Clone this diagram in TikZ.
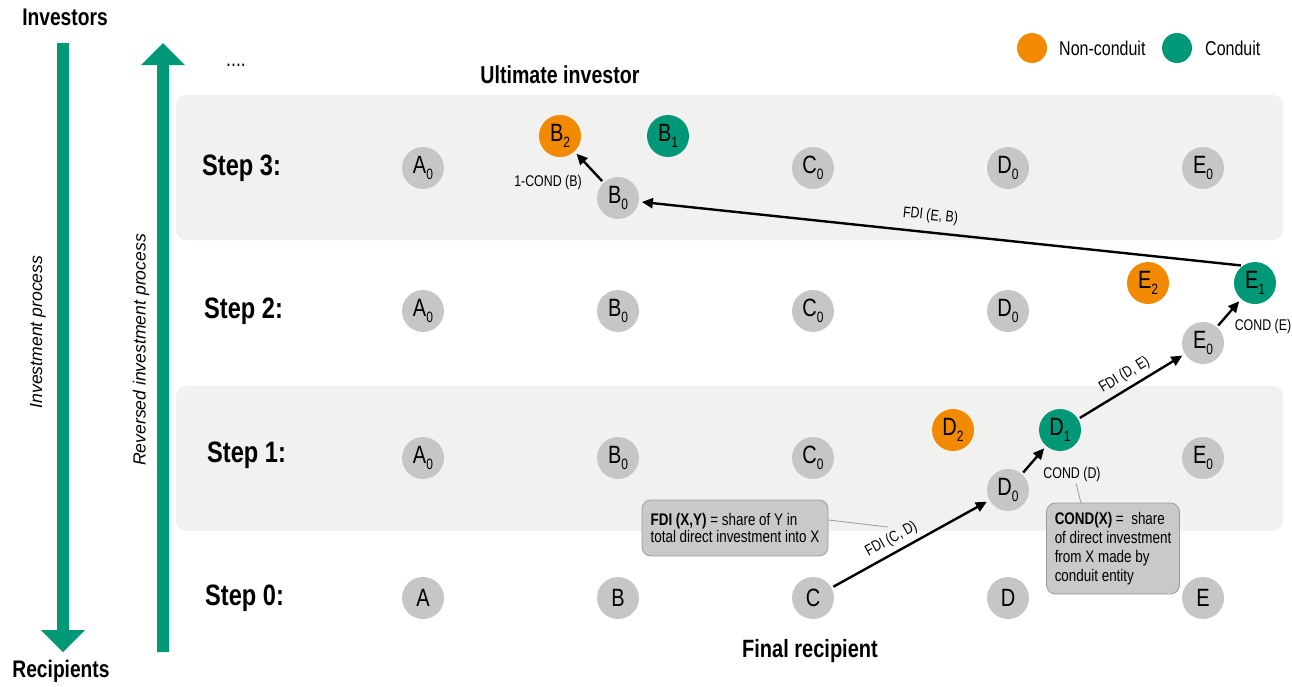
\documentclass[tikz,border=0pt]{standalone}
\usepackage{fontspec}
\setmainfont{Liberation Sans}[FakeStretch=0.8]
\newfontfamily\itfont{Liberation Sans}
\usetikzlibrary{arrows.meta,calc}
\definecolor{orng}{HTML}{F18A00}
\definecolor{grn}{HTML}{009877}
\definecolor{ngray}{HTML}{C6C6C6}
\definecolor{band}{HTML}{F1F1F0}
\definecolor{cfill}{HTML}{C9C9C9}
\definecolor{cline}{HTML}{9B9B9B}
\newcommand\fsz[1]{\fontsize{#1}{#1}\selectfont}
\newcommand\entlab[2]{#1\raisebox{-6.5pt}{\fsz{15}#2}}
\tikzset{
  ent/.style={circle, minimum size=42pt, inner sep=0pt, font=\fsz{25}},
  basent/.style={ent, fill=ngray},
  nonc/.style={ent, fill=orng},
  cond/.style={ent, fill=grn},
  arr/.style={line width=2.4pt, -{Triangle[length=11pt,width=10pt]}, shorten >=3pt, shorten <=2pt},
  lbl/.style={font=\fsz{15.5}, inner sep=2pt},
  steplbl/.style={font=\bfseries\fsz{29.5}, anchor=west, inner sep=0pt},
  head/.style={font=\bfseries\fsz{24}, inner sep=0pt},
  bandbox/.style={fill=band, rounded corners=10pt},
  callout/.style={fill=cfill, draw=cline, line width=0.8pt, rounded corners=9pt, align=left, font=\fsz{16.8}, inner sep=0pt},
  thinl/.style={draw=cline, line width=0.8pt},
  legtxt/.style={font=\fsz{20}, anchor=west, inner sep=0pt},
}
\begin{document}
\begin{tikzpicture}[x=1pt,y=-1pt]
\useasboundingbox (0,0) rectangle (1292,686);
% bands
\fill[bandbox] (176,95) rectangle (1283,240);
\fill[bandbox] (176,386) rectangle (1283,531);
% big green arrows
\fill[grn] (57,43) -- (69,43) -- (69,630) -- (85,630) -- (63,652) -- (41,630) -- (57,630) -- cycle;
\fill[grn] (157,652) -- (169,652) -- (169,65) -- (185,65) -- (163,43) -- (141,65) -- (157,65) -- cycle;
\node[head] (inv) at (65,17) {Investors};
\node[head] (rec) at (61,671) {Recipients};
\node[font=\itfont\itshape\fsz{17.6}, rotate=90, inner sep=0pt] (ip) at (38,332) {Investment process};
\node[font=\itfont\itshape\fsz{17.6}, rotate=90, inner sep=0pt] (rip) at (141,350) {Reversed investment process};
\node[font=\fsz{22}, inner sep=0pt, anchor=base] (dots) at (236,66) {....};
\node[head, font=\bfseries\fsz{24.5}] (ult) at (560,75) {Ultimate investor};
\node[head, font=\bfseries\fsz{25}] (fin) at (810,651) {Final recipient};
% legend
\fill[orng] (1032,48) circle (15pt);
\node[legtxt] (lnc) at (1059,48) {Non-conduit};
\fill[grn] (1177,48) circle (15pt);
\node[legtxt] (lc) at (1205,48) {Conduit};
% step labels
\node[steplbl] (s3) at (202,168) {Step 3:};
\node[steplbl] (s2) at (204,311) {Step 2:};
\node[steplbl] (s1) at (207,455) {Step 1:};
\node[steplbl] (s0) at (205,598) {Step 0:};
% step 3
\node[basent] (a3) at (423,168) {\entlab{A}{0}};
\node[basent] (b3) at (618,198) {\entlab{B}{0}};
\node[nonc] (b32) at (560,136) {\entlab{B}{2}};
\node[cond] (b31) at (668,136) {\entlab{B}{1}};
\node[basent] (c3) at (813,168) {\entlab{C}{0}};
\node[basent] (d3) at (1008,168) {\entlab{D}{0}};
\node[basent] (e3) at (1203,168) {\entlab{E}{0}};
% step 2
\node[basent] (a2) at (423,311) {\entlab{A}{0}};
\node[basent] (b2) at (618,311) {\entlab{B}{0}};
\node[basent] (c2) at (813,311) {\entlab{C}{0}};
\node[basent] (d2) at (1008,311) {\entlab{D}{0}};
\node[basent] (e2) at (1203,343) {\entlab{E}{0}};
\node[nonc] (e22) at (1148,283) {\entlab{E}{2}};
\node[cond] (e21) at (1255,283) {\entlab{E}{1}};
% step 1
\node[basent] (a1) at (423,458) {\entlab{A}{0}};
\node[basent] (b1) at (618,458) {\entlab{B}{0}};
\node[basent] (c1) at (813,458) {\entlab{C}{0}};
\node[basent] (d1) at (1008,490) {\entlab{D}{0}};
\node[nonc] (d12) at (953,430) {\entlab{D}{2}};
\node[cond] (d11) at (1060,430) {\entlab{D}{1}};
\node[basent] (e1) at (1203,458) {\entlab{E}{0}};
% step 0
\node[basent] (a0) at (423,598) {A};
\node[basent] (b0) at (618,598) {B};
\node[basent] (c0) at (813,598) {C};
\node[basent] (d0) at (1008,598) {D};
\node[basent] (e0) at (1203,598) {E};
% connectors
\draw[arr] (c0) -- node[lbl, sloped, above=3pt, pos=0.42] (fdicd) {FDI (C, D)} (d1);
\draw[arr] (d1) -- (d11);
\draw[arr] (d11) -- node[lbl, sloped, above=3pt, pos=0.5] (fdide) {FDI (D, E)} (e2);
\draw[arr] (e2) -- (e21);
\node[lbl] (conde) at (1263,326) {COND (E)};
\draw[arr] (e21.125) -- node[lbl, sloped, above=6pt, pos=0.52] (fdieb) {FDI (E, B)} (b3.-10);
\draw[arr] (b3) -- (b32);
\node[lbl] (condb) at (548,182) {1-COND (B)};
\node[lbl] (condd) at (1072,474) {COND (D)};
% callouts
\node[callout, minimum width=186pt, minimum height=56pt] (fdibox) at (735,528)
  {\textbf{FDI (X,Y)} = share of Y in\\[1pt] total direct investment into X};
\node[callout, minimum width=133pt, minimum height=91pt] (condbox) at (1113,548.5)
  {\textbf{COND(X)} =\ \ share\\[2pt] of direct investment\\[2pt] from X made by\\[2pt] conduit entity};
\coordinate (fdiend) at (888,527);
\draw[thinl] ($(fdibox.east)+(0,-8)$) -- (fdiend);
\coordinate (condtop) at (1081,503);
\draw[thinl] ($(condd.south)+(4,0)$) -- (condtop);
\end{tikzpicture}
\end{document}
